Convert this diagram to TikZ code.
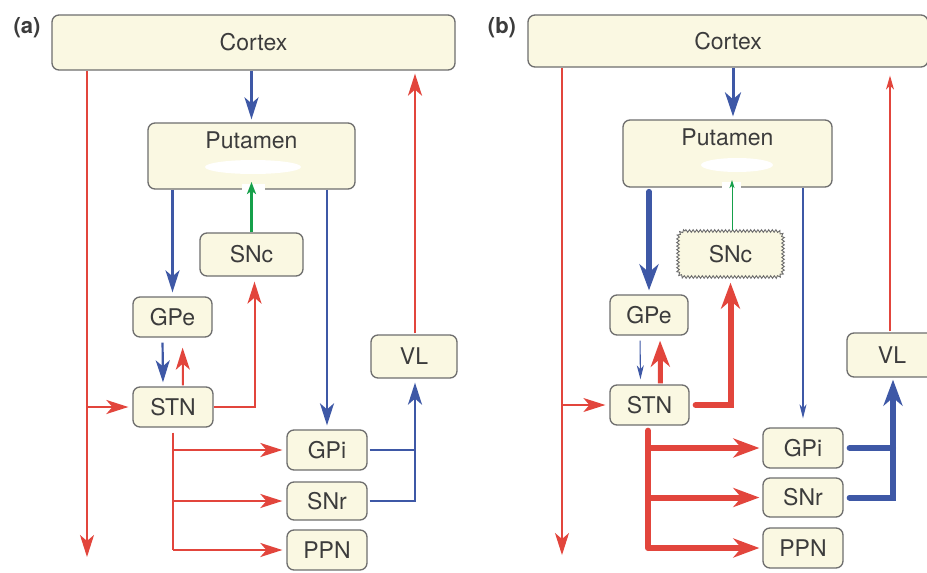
\documentclass[tikz,border=0pt]{standalone}
\usepackage{fontspec}
\setmainfont{TeX Gyre Heros}
\usetikzlibrary{arrows.meta,decorations.pathmorphing,calc}
\definecolor{boxfill}{HTML}{FAF8E2}
\definecolor{boxline}{HTML}{6E6E6E}
\definecolor{txt}{HTML}{3C3C3C}
\definecolor{cred}{HTML}{E2453C}
\definecolor{cblue}{HTML}{3E58A6}
\definecolor{cgreen}{HTML}{16A04A}
\begin{document}
\begin{tikzpicture}[x=1pt,y=-1pt,
  box/.style={draw=boxline, fill=boxfill, rounded corners=7pt, line width=1.3pt,
    text=txt, font=\fontsize{23}{26}\selectfont, inner sep=0pt},
  lbl/.style={text=txt, font=\fontsize{23}{26}\selectfont, inner sep=0pt},
  panel/.style={text=txt, font=\fontsize{22}{26}\selectfont\bfseries, inner sep=0pt},
  tipA/.tip={Stealth[length=22pt,width=14pt,inset=6pt]},
  tipM/.tip={Stealth[length=24pt,width=16pt,inset=7pt]},
  tipS/.tip={Stealth[length=14pt,width=7pt,inset=4pt]},
  tipL/.tip={Stealth[length=26pt,width=19pt,inset=8pt]},
  redA/.style={draw=cred, line width=2pt, -tipA},
  blueA/.style={draw=cblue, line width=2.2pt, -tipA},
  greenA/.style={draw=cgreen, line width=2.2pt},
  redT/.style={draw=cred, line width=1.1pt},
  blueT/.style={draw=cblue, line width=1.1pt},
  greenT/.style={draw=cgreen, line width=1pt, -{Stealth[length=8pt,width=5pt,inset=2pt]}},
  redK/.style={draw=cred, line width=6pt, line cap=round, -tipL},
  blueK/.style={draw=cblue, line width=6pt, line cap=round, -tipL},
  wavy/.style={draw=boxline, line width=0.9pt, sharp corners, decorate,
    decoration={zigzag, segment length=3.6pt, amplitude=1.3pt}}
]
\clip (0,0) rectangle (927,573);
\fill[white] (0,0) rectangle (927,573);

% ================= Panel (a) =================
\node[panel] (labA) at (27,28) {(a)};
\node[box, minimum width=403pt, minimum height=55pt] (cortexA) at (253.5,42.5) {Cortex};
\node[box, minimum width=207pt, minimum height=66pt] (putA) at (251.5,156) {};
\node[lbl] (putAt) at (251.5,140) {Putamen};
\fill[white] (253,167) ellipse [x radius=48, y radius=7];
\fill[white] (242,184) rectangle (265,192);
\node[box, minimum width=103pt, minimum height=43pt] (sncA) at (251.5,254.5) {SNc};
\node[box, minimum width=79pt, minimum height=40pt] (gpeA) at (172.5,317) {GPe};
\node[box, minimum width=80pt, minimum height=40pt] (stnA) at (173,407) {STN};
\node[box, minimum width=80pt, minimum height=40pt] (gpiA) at (327,450) {GPi};
\node[box, minimum width=80pt, minimum height=38pt] (snrA) at (327,501) {SNr};
\node[box, minimum width=80pt, minimum height=40pt] (ppnA) at (327,550) {PPN};
\node[box, minimum width=86pt, minimum height=43pt] (vlA) at (414,356.5) {VL};

\coordinate (raBot) at (87,557);
\coordinate (gAtip) at (252,182);
\coordinate (vlAx) at (415,0);

\draw[blueA, shorten >=3pt] (putA.north |- cortexA.south) -- (putA.north);
\draw[redA] (cortexA.south -| raBot) -- (raBot);
\draw[redA, shorten >=4pt] (raBot |- stnA.west) -- (stnA.west);
\draw[redA, shorten <=1pt, shorten >=3pt] (vlA.north -| vlAx) -- (vlAx |- cortexA.south);
\draw[blueA, shorten >=4pt] (putA.south -| gpeA.north) -- (gpeA.north);
\draw[blueA, shorten >=4pt] (putA.south -| gpiA.north) -- (gpiA.north);
\draw[greenA, -{Stealth[length=12pt,width=9pt,inset=3pt]}] (sncA.north) -- (sncA.north |- gAtip);
\draw[blueA, shorten <=5pt, shorten >=4pt] ($(gpeA.south)+(-10,0)$) -- ($(stnA.north)+(-10,0)$);
\draw[redA, shorten <=1pt, shorten >=10pt] ($(stnA.north)+(10,0)$) -- ($(gpeA.south)+(10,0)$);
\draw[redA, shorten >=5pt] (stnA.east) -| ($(sncA.south)+(3,0)$);
\draw[redA, -, shorten <=5pt] (stnA.south) -- (stnA.south |- ppnA.west);
\draw[redA, shorten >=4pt] (stnA.south |- ppnA.west) -- (ppnA.west);
\draw[redA, shorten >=4pt] (stnA.south |- gpiA.west) -- (gpiA.west);
\draw[redA, shorten >=4pt] (stnA.south |- snrA.west) -- (snrA.west);
\draw[blueA, -, shorten <=2pt] (gpiA.east) -- (gpiA.east -| vlAx);
\draw[blueA, shorten <=2pt, shorten >=4pt] (snrA.east) -| (vlA.south -| vlAx);

% ================= Panel (b) =================
\node[panel] (labB) at (502,28) {(b)};
\node[box, minimum width=400pt, minimum height=52pt] (cortexB) at (728,41) {Cortex};
\node[box, minimum width=209pt, minimum height=67pt] (putB) at (727.5,153.5) {};
\node[lbl] (putBt) at (727.5,137) {Putamen};
\fill[white] (737,165) ellipse [x radius=36, y radius=7];
\fill[white] (722,182) rectangle (741,190);
\node[box, draw=none, minimum width=105pt, minimum height=46pt] (sncB) at (730.5,254) {SNc};
\draw[wavy] (685,231) -- (776,231) .. controls (779.9,231) and (783,234.1) .. (783,238)
  -- (783,270) .. controls (783,273.9) and (779.9,277) .. (776,277)
  -- (685,277) .. controls (681.1,277) and (678,273.9) .. (678,270)
  -- (678,238) .. controls (678,234.1) and (681.1,231) .. (685,231) -- cycle;
\node[box, minimum width=78pt, minimum height=40pt] (gpeB) at (649,315) {GPe};
\node[box, minimum width=79pt, minimum height=40pt] (stnB) at (649.5,405) {STN};
\node[box, minimum width=80pt, minimum height=40pt] (gpiB) at (803,448) {GPi};
\node[box, minimum width=80pt, minimum height=39pt] (snrB) at (803,497.5) {SNr};
\node[box, minimum width=80pt, minimum height=40pt] (ppnB) at (803,548) {PPN};
\node[box, minimum width=90pt, minimum height=44pt] (vlB) at (892,355) {VL};

\coordinate (rbBot) at (562,555);
\coordinate (gBtip) at (732,180);
\coordinate (fanB) at (648,0);
\coordinate (vlBx) at (893,0);
\coordinate (cpBx) at (733,0);
\coordinate (vrBx) at (890,0);

\draw[draw=cblue, line width=3pt, -tipM, shorten >=3pt] (cortexB.south -| cpBx) -- (putB.north -| cpBx);
\draw[redT, -tipA] (cortexB.south -| rbBot) -- (rbBot);
\draw[redT, -tipA, shorten >=4pt] (rbBot |- stnB.west) -- (stnB.west);
\draw[redT, -{Stealth[length=14pt,width=8pt,inset=4pt]}, shorten <=1pt, shorten >=8pt] (vlB.north -| vrBx) -- (cortexB.south -| vrBx);
\draw[draw=cblue, line width=5.5pt, line cap=round, -tipL, shorten <=4pt, shorten >=4pt] (putB.south -| gpeB.north) -- (gpeB.north);
\draw[blueT, -tipS, shorten >=9pt] (putB.south -| gpiB.north) -- (gpiB.north);
\draw[greenT] (sncB.north -| gBtip) -- (gBtip);
\draw[blueT, -tipS, shorten <=5pt, shorten >=5pt] ($(gpeB.south)+(-9,0)$) -- ($(stnB.north)+(-9,0)$);
\draw[draw=cred, line width=5pt, -tipL, shorten <=1pt, shorten >=5pt] ($(stnB.north)+(11,0)$) -- ($(gpeB.south)+(11,0)$);
\draw[redK, shorten <=6pt, shorten >=5pt] (stnB.east) -| (sncB.south);
\draw[draw=cred, line width=6pt, line cap=round, shorten <=5pt] (stnB.south -| fanB) -- (fanB |- ppnB.west);
\draw[redK, line cap=butt, shorten >=3pt] (fanB |- ppnB.west) -- (ppnB.west);
\draw[redK, line cap=butt, shorten >=3pt] (fanB |- gpiB.west) -- (gpiB.west);
\draw[redK, line cap=butt, shorten >=3pt] (fanB |- snrB.west) -- (snrB.west);
\draw[blueK, -, shorten <=6pt] (gpiB.east) -- (gpiB.east -| vlBx);
\draw[blueK, shorten <=6pt, shorten >=2pt] (snrB.east) -| (vlB.south -| vlBx);
\end{tikzpicture}
\end{document}
